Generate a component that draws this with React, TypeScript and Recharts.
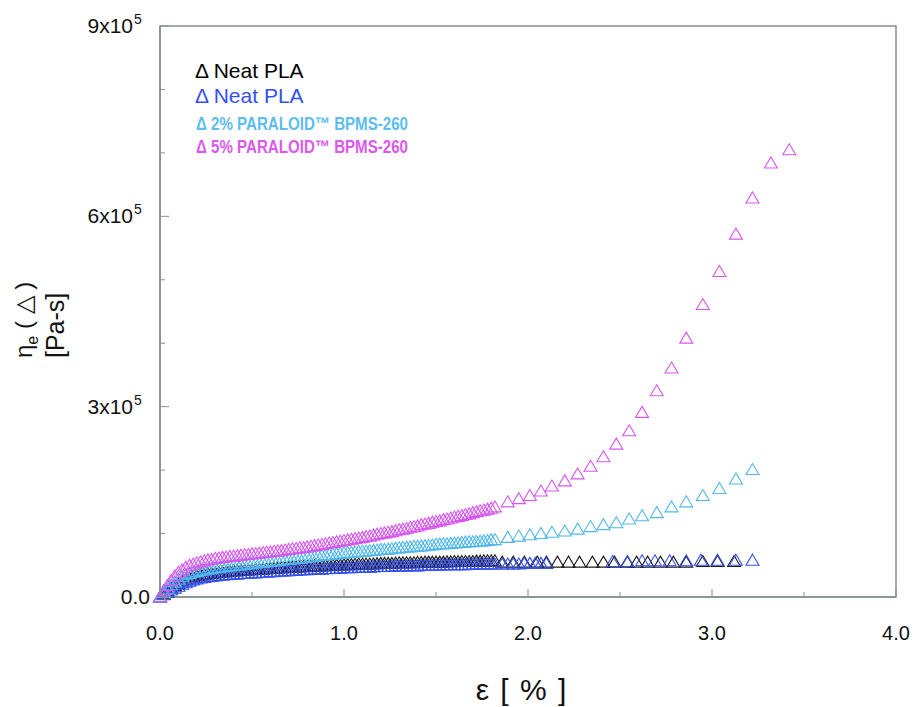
import React from "react";
import { ScatterChart, Scatter, XAxis, YAxis, ReferenceArea } from "recharts";

// strain (%) for the densely sampled part, shared by all four runs
const STRAIN_DENSE = [
  0.0, 0.02, 0.04, 0.06, 0.08, 0.1, 0.12, 0.14, 0.16, 0.18,
  0.2, 0.22, 0.24, 0.26, 0.28, 0.3, 0.32, 0.34, 0.36, 0.38,
  0.4, 0.42, 0.44, 0.46, 0.48, 0.5, 0.52, 0.54, 0.56, 0.58,
  0.6, 0.62, 0.64, 0.66, 0.68, 0.7, 0.72, 0.74, 0.76, 0.78,
  0.8, 0.82, 0.84, 0.86, 0.88, 0.9, 0.92, 0.94, 0.96, 0.98,
  1.0, 1.02, 1.04, 1.06, 1.08, 1.1, 1.12, 1.14, 1.16, 1.18,
  1.2, 1.22, 1.24, 1.26, 1.28, 1.3, 1.32, 1.34, 1.36, 1.38,
  1.4, 1.42, 1.44, 1.46, 1.48, 1.5, 1.52, 1.54, 1.56, 1.58,
  1.6, 1.62, 1.64, 1.66, 1.68, 1.7, 1.72, 1.74, 1.76, 1.78,
  1.8, 1.82,
];

// elongational viscosity in units of 1e5 Pa-s
const NEAT_BLACK_DENSE = [
  0, 0.05, 0.1, 0.14, 0.18, 0.21, 0.25, 0.28, 0.3, 0.32,
  0.335, 0.345, 0.36, 0.365, 0.37, 0.38, 0.385, 0.39, 0.4, 0.405,
  0.41, 0.415, 0.42, 0.42, 0.425, 0.43, 0.435, 0.44, 0.44, 0.445,
  0.45, 0.45, 0.455, 0.46, 0.46, 0.465, 0.47, 0.47, 0.475, 0.48,
  0.48, 0.485, 0.49, 0.49, 0.49, 0.495, 0.5, 0.5, 0.5, 0.505,
  0.51, 0.51, 0.51, 0.515, 0.52, 0.52, 0.52, 0.52, 0.52, 0.525,
  0.53, 0.53, 0.53, 0.53, 0.535, 0.54, 0.54, 0.54, 0.54, 0.54,
  0.545, 0.545, 0.55, 0.55, 0.55, 0.55, 0.55, 0.55, 0.555, 0.555,
  0.56, 0.56, 0.56, 0.56, 0.56, 0.56, 0.565, 0.565, 0.57, 0.57,
  0.57, 0.57,
];
const NEAT_BLUE_DENSE = [
  0, 0.035, 0.07, 0.11, 0.14, 0.17, 0.2, 0.225, 0.25, 0.27,
  0.285, 0.3, 0.31, 0.32, 0.325, 0.33, 0.34, 0.345, 0.35, 0.355,
  0.36, 0.36, 0.37, 0.37, 0.375, 0.38, 0.38, 0.385, 0.39, 0.39,
  0.4, 0.4, 0.405, 0.41, 0.41, 0.415, 0.42, 0.42, 0.425, 0.43,
  0.43, 0.435, 0.44, 0.44, 0.44, 0.445, 0.45, 0.45, 0.45, 0.455,
  0.46, 0.46, 0.46, 0.465, 0.47, 0.47, 0.47, 0.47, 0.475, 0.48,
  0.48, 0.48, 0.48, 0.485, 0.49, 0.49, 0.49, 0.49, 0.495, 0.49,
  0.49, 0.5, 0.5, 0.5, 0.5, 0.5, 0.505, 0.505, 0.51, 0.51,
  0.51, 0.51, 0.51, 0.51, 0.515, 0.515, 0.52, 0.52, 0.52, 0.52,
  0.52, 0.52,
];
const P2_DENSE = [
  0, 0.07, 0.13, 0.19, 0.24, 0.28, 0.32, 0.35, 0.37, 0.39,
  0.4, 0.42, 0.43, 0.44, 0.45, 0.46, 0.465, 0.475, 0.48, 0.49,
  0.495, 0.5, 0.51, 0.515, 0.52, 0.53, 0.535, 0.54, 0.55, 0.555,
  0.56, 0.57, 0.575, 0.58, 0.59, 0.595, 0.6, 0.61, 0.615, 0.62,
  0.63, 0.635, 0.64, 0.65, 0.655, 0.66, 0.67, 0.675, 0.68, 0.69,
  0.695, 0.7, 0.705, 0.71, 0.715, 0.72, 0.725, 0.73, 0.735, 0.74,
  0.75, 0.75, 0.755, 0.76, 0.77, 0.775, 0.78, 0.785, 0.79, 0.8,
  0.8, 0.805, 0.81, 0.815, 0.82, 0.83, 0.835, 0.84, 0.84, 0.845,
  0.85, 0.855, 0.86, 0.865, 0.87, 0.87, 0.875, 0.88, 0.885, 0.89,
  0.9, 0.905,
];
const P5_DENSE = [
  0, 0.1, 0.18, 0.26, 0.33, 0.39, 0.43, 0.47, 0.5, 0.52,
  0.54, 0.555, 0.57, 0.585, 0.595, 0.61, 0.615, 0.625, 0.63, 0.64,
  0.645, 0.65, 0.66, 0.665, 0.67, 0.68, 0.685, 0.69, 0.7, 0.705,
  0.71, 0.72, 0.725, 0.73, 0.74, 0.75, 0.76, 0.765, 0.775, 0.78,
  0.79, 0.8, 0.81, 0.82, 0.83, 0.84, 0.85, 0.86, 0.87, 0.88,
  0.89, 0.9, 0.91, 0.92, 0.93, 0.94, 0.955, 0.96, 0.975, 0.99,
  1.0, 1.01, 1.02, 1.03, 1.045, 1.06, 1.07, 1.08, 1.1, 1.11,
  1.12, 1.14, 1.15, 1.16, 1.18, 1.19, 1.2, 1.22, 1.23, 1.245,
  1.26, 1.27, 1.285, 1.3, 1.31, 1.33, 1.345, 1.36, 1.37, 1.385,
  1.4, 1.42,
];

// sparse tail of each run
const NEAT_BLACK_TAIL_X = [
  1.86, 1.92, 1.98, 2.05, 2.1, 2.16, 2.22, 2.28, 2.35, 2.41, 2.47, 2.54, 2.59, 2.65, 2.72, 2.79,
  2.86, 2.95, 3.03, 3.12,
];
const NEAT_BLACK_TAIL = [
  0.55, 0.55, 0.55, 0.55, 0.55, 0.55, 0.55, 0.55, 0.55, 0.55, 0.55, 0.55, 0.55, 0.55, 0.55, 0.55,
  0.55, 0.56, 0.56, 0.56,
];
const NEAT_BLUE_TAIL_X = [
  1.86, 1.89, 1.92, 1.95, 1.98, 2.01, 2.04, 2.07, 2.1, 2.46, 2.54, 2.62, 2.69, 2.77, 2.86, 2.94,
  3.03, 3.13, 3.22,
];
const NEAT_BLUE_TAIL = [
  0.52, 0.52, 0.52, 0.52, 0.53, 0.53, 0.53, 0.53, 0.53, 0.56, 0.56, 0.57, 0.57, 0.57, 0.57, 0.58,
  0.58, 0.58, 0.58,
];
const PARALOID_TAIL_X = [
  1.89, 1.95, 2.01, 2.07, 2.13, 2.2, 2.27, 2.34, 2.41, 2.48, 2.55, 2.62, 2.7, 2.78, 2.86, 2.95,
  3.04, 3.13, 3.22, 3.32, 3.42,
];
const P2_TAIL = [
  0.94, 0.96, 0.98, 1.0, 1.02, 1.04, 1.07, 1.11, 1.14, 1.17, 1.23, 1.28, 1.33, 1.42, 1.5, 1.6,
  1.71, 1.86, 2.01,
];
const P5_TAIL = [
  1.5, 1.55, 1.6, 1.67, 1.75, 1.83, 1.94, 2.06, 2.21, 2.41, 2.62, 2.91, 3.25, 3.61, 4.08, 4.61,
  5.13, 5.72, 6.29, 6.84, 7.05,
];

const X_TICKS = [0, 0.5, 1, 1.5, 2, 2.5, 3, 3.5, 4];
const Y_TICKS = [0, 1, 2, 3, 4, 5, 6, 7, 8, 9];

const BLACK = "#1a1a1a";
const BLUE = "#3550ee";
const LIGHT_BLUE = "#4fb8ec";
const MAGENTA = "#d657ee";
const AXIS = "#85918d";
const FONT = "'Liberation Sans', Arial, sans-serif";

const toPoints = (xs: number[], ys: number[]) => ys.map((y, i) => ({ x: xs[i], y }));

const blackData = [...toPoints(STRAIN_DENSE, NEAT_BLACK_DENSE), ...toPoints(NEAT_BLACK_TAIL_X, NEAT_BLACK_TAIL)];
const blueData = [...toPoints(STRAIN_DENSE, NEAT_BLUE_DENSE), ...toPoints(NEAT_BLUE_TAIL_X, NEAT_BLUE_TAIL)];
const p2Data = [...toPoints(STRAIN_DENSE, P2_DENSE), ...toPoints(PARALOID_TAIL_X, P2_TAIL)];
const p5Data = [...toPoints(STRAIN_DENSE, P5_DENSE), ...toPoints(PARALOID_TAIL_X, P5_TAIL)];

// hollow triangle marker
const triangle = (color: string) => (props: any) => {
  const { cx, cy } = props;
  if (cx == null || cy == null) return <g />;
  return (
    <path
      d={`M${cx},${cy - 6}L${cx + 6.5},${cy + 5}L${cx - 6.5},${cy + 5}Z`}
      fill="none"
      stroke={color}
      strokeWidth={1.1}
    />
  );
};

const XTick = ({ x, y, payload }: any) => {
  const v = payload.value;
  const major = Number.isInteger(v);
  return (
    <g>
      <line x1={x} x2={x} y1={y} y2={y - (major ? 8 : 5)} stroke={AXIS} />
      {major && (
        <text x={x} y={y + 43} textAnchor="middle" fontSize={20} fill="#111" fontFamily={FONT}>
          {v.toFixed(1)}
        </text>
      )}
    </g>
  );
};

const YTick = ({ x, y, payload }: any) => {
  const v = payload.value;
  const major = v % 3 === 0;
  return (
    <g>
      <line x1={x} x2={x + (major ? 9 : 5)} y1={y} y2={y} stroke={AXIS} />
      {major && v === 0 && (
        <text x={x - 10} y={y + 7} textAnchor="end" fontSize={21} fill="#111" fontFamily={FONT}>
          0.0
        </text>
      )}
      {major && v !== 0 && (
        <text x={x - 27} y={y + 7} textAnchor="end" fontSize={21} fill="#111" fontFamily={FONT}>
          {`${v}x10`}
          <tspan x={x - 26} dy={-9} fontSize={14} textAnchor="start">5</tspan>
        </text>
      )}
    </g>
  );
};

const LEGEND = [
  { label: "Δ Neat PLA", color: "#000", bold: false, y: 78 },
  { label: "Δ Neat PLA", color: BLUE, bold: false, y: 103 },
  { label: "Δ 2% PARALOID™ BPMS-260", color: "#5cbdf0", bold: true, y: 130 },
  { label: "Δ 5% PARALOID™ BPMS-260", color: "#dc58ec", bold: true, y: 153 },
];

export default function App() {
  return (
    <div style={{ position: "absolute", left: 0, top: 0, width: 923, height: 707, background: "#fff" }}>
      <ScatterChart width={923} height={707} margin={{ top: 26, right: 27, bottom: 80, left: 100 }}>
        <XAxis
          type="number"
          dataKey="x"
          domain={[0, 4]}
          ticks={X_TICKS}
          interval={0}
          height={30}
          tickSize={0}
          tickMargin={0}
          tickLine={false}
          axisLine={{ stroke: AXIS, strokeWidth: 1.5 }}
          tick={<XTick />}
        />
        <YAxis
          type="number"
          dataKey="y"
          domain={[0, 9]}
          ticks={Y_TICKS}
          interval={0}
          width={60}
          tickSize={0}
          tickMargin={0}
          tickLine={false}
          axisLine={{ stroke: AXIS, strokeWidth: 1.5 }}
          tick={<YTick />}
        />
        <ReferenceArea x1={0} x2={4} y1={0} y2={9} fill="none" stroke={AXIS} strokeWidth={1.5} />
        <Scatter data={blackData} shape={triangle(BLACK)} isAnimationActive={false} />
        <Scatter data={blueData} shape={triangle(BLUE)} isAnimationActive={false} />
        <Scatter data={p2Data} shape={triangle(LIGHT_BLUE)} isAnimationActive={false} />
        <Scatter data={p5Data} shape={triangle(MAGENTA)} isAnimationActive={false} />
      </ScatterChart>
      <svg
        width={923}
        height={707}
        style={{ position: "absolute", left: 0, top: 0, pointerEvents: "none" }}
        fontFamily={FONT}
      >
        {LEGEND.map((item, i) =>
          item.bold ? (
            <text key={i} x={196} y={item.y} fontSize={18} fontWeight="bold" fill={item.color}
              textLength={212} lengthAdjust="spacingAndGlyphs">
              {item.label}
            </text>
          ) : (
            <text key={i} x={195} y={item.y} fontSize={21} fill={item.color}>
              {item.label}
            </text>
          )
        )}
        <text transform="translate(32,358) rotate(-90)" fontSize={24} fill="#111">
          η<tspan dy={6} fontSize={16}>e</tspan>
          <tspan dy={-6}> ( △ )</tspan>
        </text>
        <text transform="translate(64,358) rotate(-90)" fontSize={25} fill="#111">
          [Pa-s]
        </text>
        <text x={521} y={700} textAnchor="middle" fontSize={30} wordSpacing={3} fill="#111">
          ε [ % ]
        </text>
      </svg>
    </div>
  );
}
